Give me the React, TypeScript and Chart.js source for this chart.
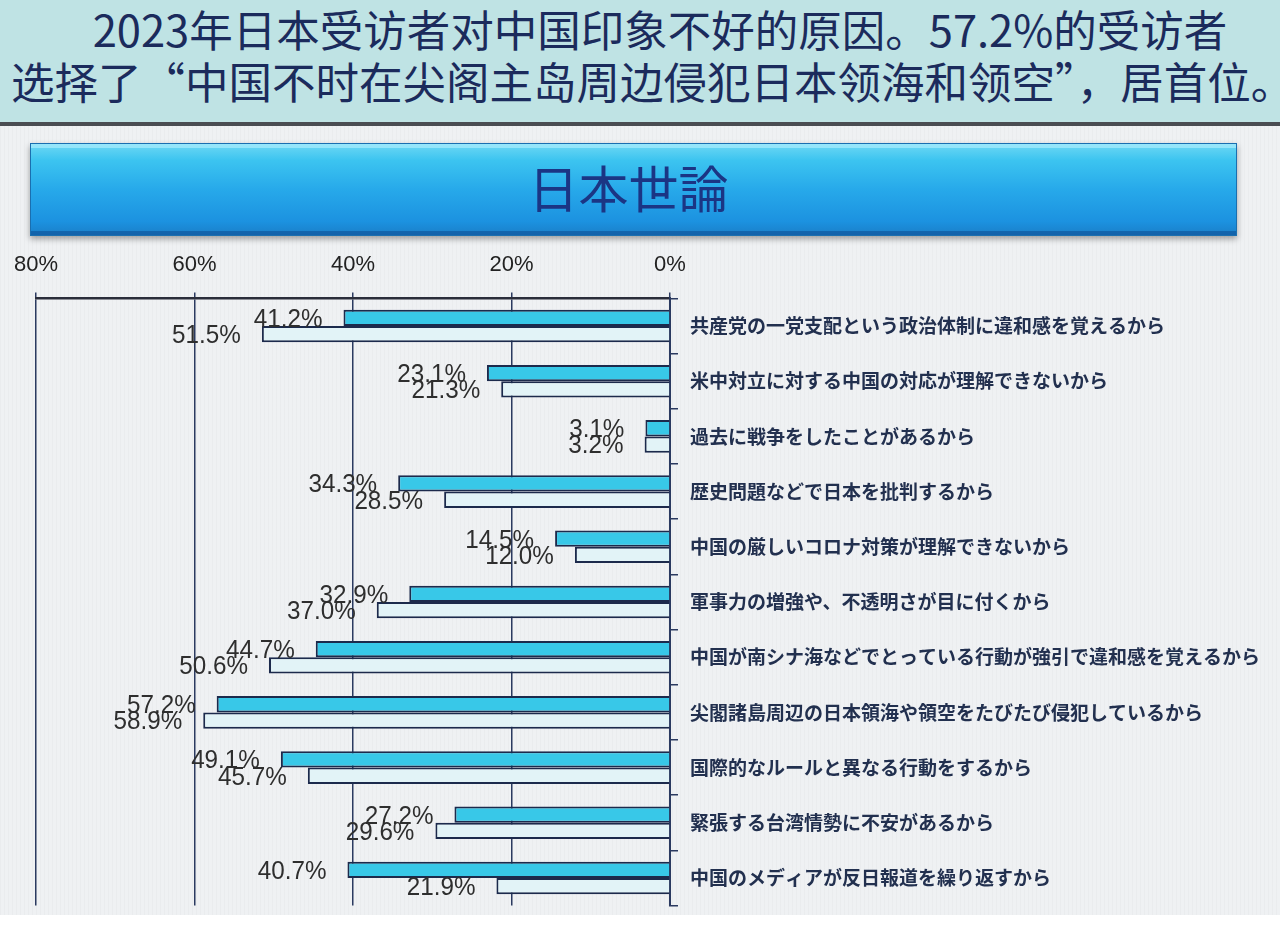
import React, { useEffect, useRef } from "react";
import { Chart, registerables } from "chart.js";

Chart.register(...registerables);

const headerLine1 = "2023年日本受访者对中国印象不好的原因。57.2%的受访者";
const headerLine2 = "选择了“中国不时在尖阁主岛周边侵犯日本领海和领空”，居首位。";
const bannerTitle = "日本世論";

const categories = [
  "共産党の一党支配という政治体制に違和感を覚えるから",
  "米中対立に対する中国の対応が理解できないから",
  "過去に戦争をしたことがあるから",
  "歴史問題などで日本を批判するから",
  "中国の厳しいコロナ対策が理解できないから",
  "軍事力の増強や、不透明さが目に付くから",
  "中国が南シナ海などでとっている行動が強引で違和感を覚えるから",
  "尖閣諸島周辺の日本領海や領空をたびたび侵犯しているから",
  "国際的なルールと異なる行動をするから",
  "緊張する台湾情勢に不安があるから",
  "中国のメディアが反日報道を繰り返すから",
];

const values2023 = [41.2, 23.1, 3.1, 34.3, 14.5, 32.9, 44.7, 57.2, 49.1, 27.2, 40.7];
const values2022 = [51.5, 21.3, 3.2, 28.5, 12.0, 37.0, 50.6, 58.9, 45.7, 29.6, 21.9];

const xMin = 0;
const xMax = 80;
const xStep = 20;

const valueLabelPlugin = {
  id: "valueLabels",
  afterDatasetsDraw(chart: any) {
    const ctx = chart.ctx;
    ctx.save();
    ctx.fillStyle = "#2e2e2e";
    ctx.font = '25px "Liberation Sans", Arial, sans-serif';
    ctx.textAlign = "right";
    ctx.textBaseline = "middle";
    chart.data.datasets.forEach((ds: any, i: number) => {
      const meta = chart.getDatasetMeta(i);
      meta.data.forEach((bar: any, j: number) => {
        const v = ds.data[j];
        ctx.save();
        ctx.translate(bar.x - 21, bar.y + 2);
        ctx.scale(0.97, 1);
        ctx.fillText(v.toFixed(1) + "%", 0, 0);
        ctx.restore();
      });
    });
    ctx.restore();
  },
};

const CANVAS_TOP = 229;
const CANVAS_H = 700;

function BarChart() {
  const ref = useRef<HTMLCanvasElement | null>(null);
  useEffect(() => {
    if (!ref.current) return;
    const chart = new Chart(ref.current, {
      type: "bar",
      data: {
        labels: categories,
        datasets: [
          {
            label: "2023",
            data: values2023,
            backgroundColor: "#38c8e8",
            borderColor: "#1c2a4c",
            borderWidth: 2,
            categoryPercentage: 0.59,
            barPercentage: 1,
          },
          {
            label: "2022",
            data: values2022,
            backgroundColor: "#e2f3f7",
            borderColor: "#1c2a4c",
            borderWidth: 2,
            categoryPercentage: 0.59,
            barPercentage: 1,
          },
        ],
      },
      options: {
        indexAxis: "y",
        responsive: false,
        animation: false,
        devicePixelRatio: 1,
        layout: { padding: { left: 30, top: 9, right: 0, bottom: 0 } },
        plugins: {
          legend: { display: false },
          tooltip: { enabled: false },
        },
        scales: {
          x: {
            position: "top",
            reverse: true,
            min: xMin,
            max: xMax,
            ticks: {
              stepSize: xStep,
              callback: (v: any) => v + "%",
              color: "#222",
              font: { family: '"Liberation Sans", Arial, sans-serif', size: 22 },
              padding: 14,
            },
            grid: {
              color: "#2b3a60",
              lineWidth: 1.5,
              tickLength: 6,
            },
            border: { display: true, color: "#2a2d3a", width: 2.5 },
          },
          y: {
            position: "right",
            ticks: {
              autoSkip: false,
              color: "#22304f",
              font: { family: '"Noto Sans CJK JP", sans-serif', size: 19, weight: "bold" },
              padding: 12,
            },
            grid: {
              drawOnChartArea: false,
              color: "#2b3a60",
              lineWidth: 1.5,
              tickLength: 8,
            },
            border: { display: true, color: "#2b3a60", width: 2 },
            afterFit: (s: any) => {
              s.width = 610;
            },
          },
        },
      },
      plugins: [valueLabelPlugin],
    } as any);
    return () => chart.destroy();
  }, []);
  return (
    <canvas
      ref={ref}
      width={1280}
      height={CANVAS_H}
      style={{ position: "absolute", left: 0, top: CANVAS_TOP - 126, width: 1280, height: CANVAS_H }}
    />
  );
}

export default function App() {
  return (
    <div
      style={{
        position: "absolute",
        left: 0,
        top: 0,
        width: 1280,
        height: 926,
        overflow: "hidden",
        background: "#ffffff",
      }}
    >
      <div
        style={{
          position: "absolute",
          left: 0,
          top: 0,
          width: 1280,
          height: 122,
          background: "#bfe3e4",
          fontFamily: '"Noto Sans CJK SC", sans-serif',
          color: "#1b2b5c",
          fontSize: 43.5,
          lineHeight: "52px",
        }}
      >
        <div style={{ position: "absolute", left: 20, top: 3, width: 1280, textAlign: "center", whiteSpace: "nowrap" }}>
          {headerLine1}
        </div>
        <div style={{ position: "absolute", left: 11, top: 55, width: 1280, textAlign: "center", whiteSpace: "nowrap" }}>
          {headerLine2}
        </div>
      </div>
      <div style={{ position: "absolute", left: 0, top: 122, width: 1280, height: 4, background: "#4a4d52" }} />
      <div
        style={{
          position: "absolute",
          left: 0,
          top: 126,
          width: 1280,
          height: 789,
          overflow: "hidden",
          background:
            "repeating-linear-gradient(90deg, rgba(0,0,0,0.018) 0px, rgba(0,0,0,0.018) 1px, rgba(255,255,255,0) 1px, rgba(255,255,255,0) 4px), #eff1f3",
        }}
      >
        <div
          style={{
            position: "absolute",
            left: 30,
            top: 17,
            width: 1205,
            height: 91,
            background: "linear-gradient(to bottom, #6dd8f4 0%, #3cc4f0 18%, #27a9ea 50%, #1c92e0 85%, #1a7fc9 100%)",
            boxShadow: "0 3px 6px rgba(0,0,0,0.35), inset 0 4px 0 rgba(180,240,255,0.6), inset 0 -4px 0 rgba(10,70,140,0.5)",
            border: "1px solid #1a6fb0",
          }}
        >
          <div
            style={{
              position: "absolute",
              left: 0,
              top: 15,
              width: 1195,
              textAlign: "center",
              fontFamily: '"Noto Sans CJK JP", sans-serif',
              fontSize: 50,
              color: "#1b3584",
              lineHeight: "54px",
            }}
          >
            {bannerTitle}
          </div>
        </div>
        <BarChart />
      </div>
    </div>
  );
}
